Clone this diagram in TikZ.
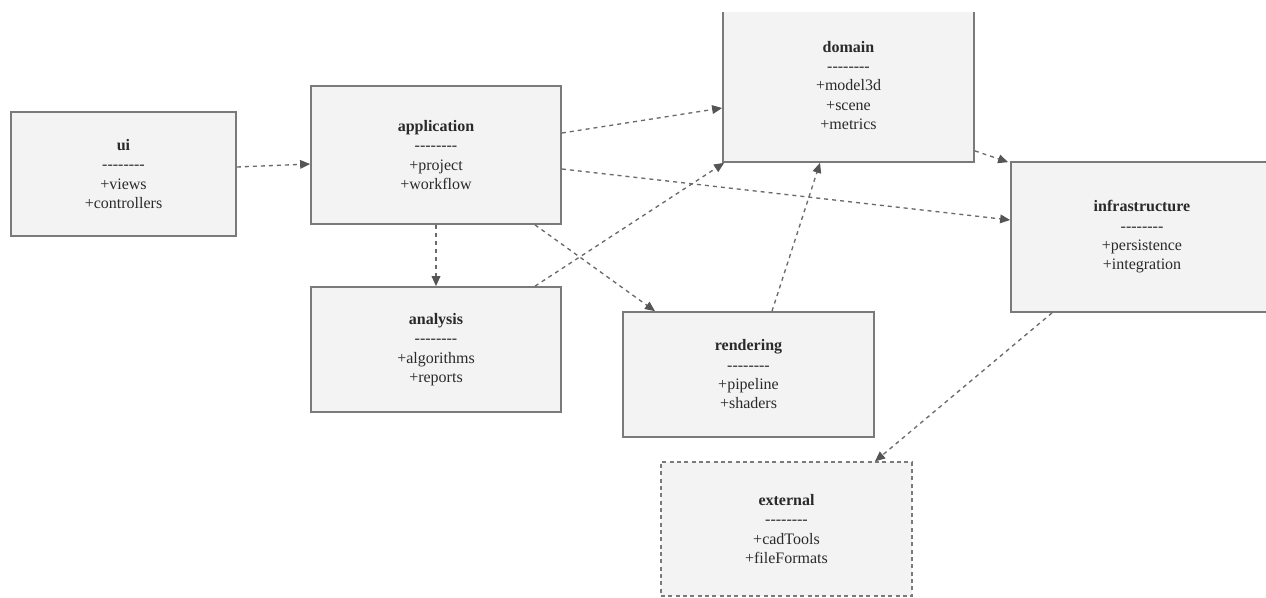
\documentclass[tikz,border=0pt]{standalone}
\usepackage{fontspec}
\setmainfont{Liberation Serif}
\usetikzlibrary{arrows.meta,calc}
\definecolor{boxfill}{HTML}{F3F3F3}
\definecolor{boxline}{HTML}{7A7A7A}
\definecolor{txt}{HTML}{2A2A2A}
\definecolor{edge}{HTML}{6A6A6A}
\definecolor{tip}{HTML}{555555}
\newcommand\dashrow{\mbox{-}\mbox{-}\mbox{-}\mbox{-}\mbox{-}\mbox{-}\mbox{-}\mbox{-}}
\begin{document}
\begin{tikzpicture}[x=0.75pt,y=-0.75pt,
  pkg/.style n args={2}{draw=boxline, line width=1.3pt, fill=boxfill, rectangle,
    minimum width=#1*0.75pt, minimum height=#2*0.75pt, inner sep=0pt,
    align=center, text=txt, font=\fontsize{12}{14.5}\selectfont},
  extpkg/.style={dash pattern=on 3pt off 2.5pt, line width=1pt},
  dep/.style={draw=edge, line width=1pt, dash pattern=on 3pt off 3pt,
    -{Triangle[length=7.5pt,width=6.5pt,fill=tip,color=tip]}}
]
\useasboundingbox (0,0) rectangle (1266,597);
\fill[white] (0,0) rectangle (1266,597);
\clip (0,12) rectangle (1266,597);

\node[pkg={225}{124}] (ui) at (123.5,174) {\textbf{ui}\\\dashrow\\+views\\+controllers};
\node[pkg={250}{138}] (app) at (436,155) {\textbf{application}\\\dashrow\\+project\\+workflow};
\node[pkg={251}{153}] (dom) at (848.5,85.5) {\textbf{domain}\\\dashrow\\+model3d\\+scene\\+metrics};
\node[pkg={262}{150}] (infra) at (1142,237) {\textbf{infrastructure}\\\dashrow\\+persistence\\+integration};
\node[pkg={250}{125}] (ana) at (436,349.5) {\textbf{analysis}\\\dashrow\\+algorithms\\+reports};
\node[pkg={251}{125}] (ren) at (748.5,374.5) {\textbf{rendering}\\\dashrow\\+pipeline\\+shaders};
\node[pkg={251}{134}, extpkg] (ext) at (786.5,529) {\textbf{external}\\\dashrow\\+cadTools\\+fileFormats};

\draw[dep] ($(ui.east)+(0,-7)$) -- ($(app.west)+(0,9)$);
\draw[dep] ($(app.east)+(0,-22)$) -- ($(dom.west)+(0,22.5)$);
\draw[dep] ($(app.east)+(0,14)$) -- ($(infra.west)+(0,-17)$);
\draw[dep] ($(app.south)+(99,0)$) -- ($(ren.north)+(-93.5,0)$);
\draw[dep] (app.south) -- (ana.north);
\draw[dep] ($(ana.north)+(99,0)$) -- ($(dom.south west)+(2,0)$);
\draw[dep] ($(ren.north)+(23.5,0)$) -- ($(dom.south)+(-28.5,0)$);
\draw[dep] ($(dom.south east)+(0,-12)$) -- ($(infra.north west)+(-2,1)$);
\draw[dep] ($(infra.south)+(-90,0)$) -- ($(ext.north)+(88.5,0)$);
\end{tikzpicture}
\end{document}
